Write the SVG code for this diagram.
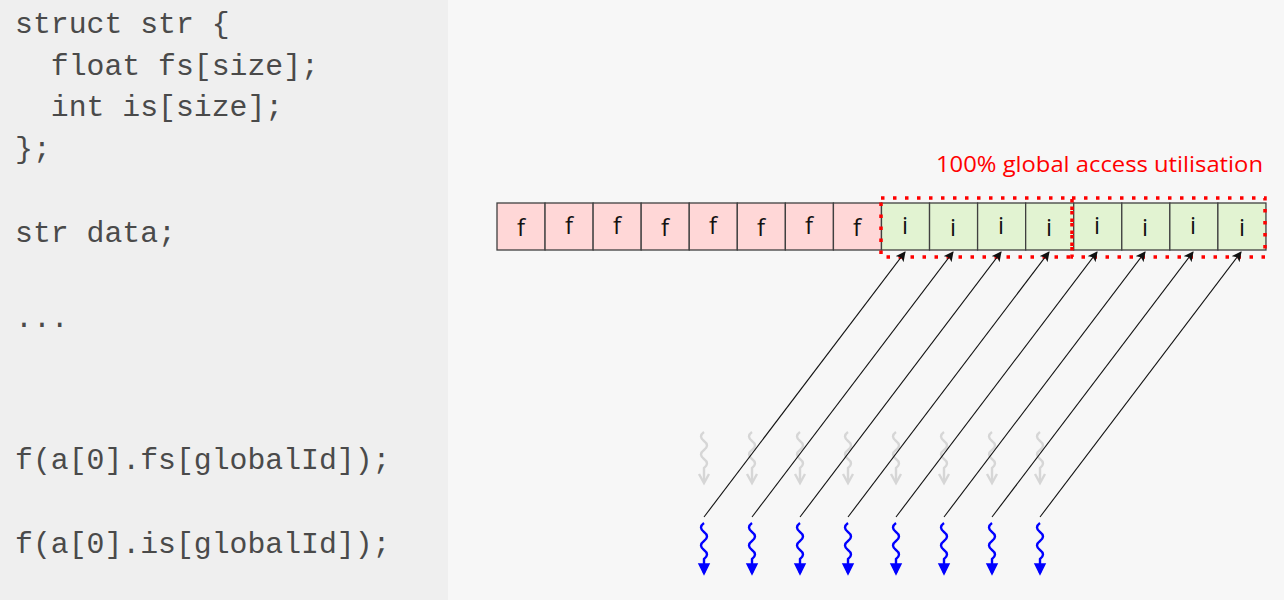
<svg xmlns="http://www.w3.org/2000/svg" width="1284" height="600" viewBox="0 0 1284 600">
<style>
.code{font-family:"Liberation Mono","Courier New",monospace;font-size:29.8px;fill:#4a4a4a;white-space:pre}
.cf{fill:#ffd7d7;stroke:#404040;stroke-width:1.3}
.ci{fill:#e2f3d2;stroke:#404040;stroke-width:1.3}
.lbl{font-family:"Open Sans","Liberation Sans",sans-serif;font-size:24px;fill:#111;text-anchor:middle}
.sel{fill:none;stroke:#ff0000;stroke-width:3.5;stroke-dasharray:3.5 8.5}
.conn{stroke:#111;stroke-width:1.1;fill:none}
.thr{fill:none;stroke:#0000ff;stroke-width:2.4}
.ghost{fill:none;stroke:#d6d6d6;stroke-width:2.4}
</style>
<defs>
<marker id="ah" markerWidth="10" markerHeight="10" refX="9" refY="5" orient="auto" markerUnits="userSpaceOnUse">
<path d="M0,0 L10,5 L0,10 L2.5,5 Z" fill="#111"/>
</marker>
<path id="sq" d="M0,0 c-4,3 -4,6 0,9 c4,3 4,6 0,9 c-4,3 -4,6 0,9 c4,3 4,6 0,9 L0,50"/>
</defs>
<rect x="0" y="0" width="1284" height="600" fill="#f7f7f7"/>
<rect x="0" y="0" width="448" height="600" fill="#efefef"/>
<g id="code">
<text class="code" x="15" y="33">struct str {</text>
<text class="code" x="15" y="75">  float fs[size];</text>
<text class="code" x="15" y="116">  int is[size];</text>
<text class="code" x="15" y="158">};</text>
<text class="code" x="15" y="242">str data;</text>
<text class="code" x="15" y="327">...</text>
<text class="code" x="15" y="469">f(a[0].fs[globalId]);</text>
<text class="code" x="15" y="553">f(a[0].is[globalId]);</text>
</g>
<g id="memory">
<rect class="cf" x="497" y="203" width="48.06" height="47"/>
<rect class="cf" x="545.06" y="203" width="48.06" height="47"/>
<rect class="cf" x="593.12" y="203" width="48.06" height="47"/>
<rect class="cf" x="641.18" y="203" width="48.06" height="47"/>
<rect class="cf" x="689.24" y="203" width="48.06" height="47"/>
<rect class="cf" x="737.3" y="203" width="48.06" height="47"/>
<rect class="cf" x="785.36" y="203" width="48.06" height="47"/>
<rect class="cf" x="833.42" y="203" width="48.06" height="47"/>
<rect class="ci" x="881.48" y="203" width="48.06" height="47"/>
<rect class="ci" x="929.54" y="203" width="48.06" height="47"/>
<rect class="ci" x="977.6" y="203" width="48.06" height="47"/>
<rect class="ci" x="1025.66" y="203" width="48.06" height="47"/>
<rect class="ci" x="1073.72" y="203" width="48.06" height="47"/>
<rect class="ci" x="1121.78" y="203" width="48.06" height="47"/>
<rect class="ci" x="1169.84" y="203" width="48.06" height="47"/>
<rect class="ci" x="1217.9" y="203" width="48.06" height="47"/>
<text class="lbl" x="521" y="236">f</text>
<text class="lbl" x="569" y="234">f</text>
<text class="lbl" x="617" y="234">f</text>
<text class="lbl" x="665" y="236">f</text>
<text class="lbl" x="713" y="234">f</text>
<text class="lbl" x="761" y="236">f</text>
<text class="lbl" x="809" y="234">f</text>
<text class="lbl" x="857" y="236">f</text>
<text class="lbl" x="905" y="234">i</text>
<text class="lbl" x="953" y="236">i</text>
<text class="lbl" x="1001" y="234">i</text>
<text class="lbl" x="1049" y="236">i</text>
<text class="lbl" x="1097" y="234">i</text>
<text class="lbl" x="1145" y="236">i</text>
<text class="lbl" x="1193" y="234">i</text>
<text class="lbl" x="1242" y="236">i</text>
</g>
<g id="selection">
<rect class="sel" x="881" y="198" width="191" height="59"/>
<rect class="sel" x="1072" y="198" width="193" height="59"/>
<text x="1263" y="172" text-anchor="end" font-family="'Open Sans','Liberation Sans',sans-serif" font-size="21.5" fill="#ff0000" textLength="327" lengthAdjust="spacingAndGlyphs">100% global access utilisation</text>
</g>
<g id="threads-idle">
<use href="#sq" class="ghost" x="704" y="432"/>
<use href="#sq" class="ghost" x="752" y="432"/>
<use href="#sq" class="ghost" x="800" y="432"/>
<use href="#sq" class="ghost" x="848" y="432"/>
<use href="#sq" class="ghost" x="896" y="432"/>
<use href="#sq" class="ghost" x="944" y="432"/>
<use href="#sq" class="ghost" x="992" y="432"/>
<use href="#sq" class="ghost" x="1040" y="432"/>
<path d="M699,474 L704,483 L709,474" fill="none" stroke="#d6d6d6" stroke-width="2.4"/>
<path d="M747,474 L752,483 L757,474" fill="none" stroke="#d6d6d6" stroke-width="2.4"/>
<path d="M795,474 L800,483 L805,474" fill="none" stroke="#d6d6d6" stroke-width="2.4"/>
<path d="M843,474 L848,483 L853,474" fill="none" stroke="#d6d6d6" stroke-width="2.4"/>
<path d="M891,474 L896,483 L901,474" fill="none" stroke="#d6d6d6" stroke-width="2.4"/>
<path d="M939,474 L944,483 L949,474" fill="none" stroke="#d6d6d6" stroke-width="2.4"/>
<path d="M987,474 L992,483 L997,474" fill="none" stroke="#d6d6d6" stroke-width="2.4"/>
<path d="M1035,474 L1040,483 L1045,474" fill="none" stroke="#d6d6d6" stroke-width="2.4"/>
</g>
<g id="threads-active">
<use href="#sq" class="thr" x="704" y="523"/>
<use href="#sq" class="thr" x="752" y="523"/>
<use href="#sq" class="thr" x="800" y="523"/>
<use href="#sq" class="thr" x="848" y="523"/>
<use href="#sq" class="thr" x="896" y="523"/>
<use href="#sq" class="thr" x="944" y="523"/>
<use href="#sq" class="thr" x="992" y="523"/>
<use href="#sq" class="thr" x="1040" y="523"/>
<path d="M699,564 L704,574 L709,564 Z" fill="#0000ff" stroke="#0000ff" stroke-width="1.5"/>
<path d="M747,564 L752,574 L757,564 Z" fill="#0000ff" stroke="#0000ff" stroke-width="1.5"/>
<path d="M795,564 L800,574 L805,564 Z" fill="#0000ff" stroke="#0000ff" stroke-width="1.5"/>
<path d="M843,564 L848,574 L853,564 Z" fill="#0000ff" stroke="#0000ff" stroke-width="1.5"/>
<path d="M891,564 L896,574 L901,564 Z" fill="#0000ff" stroke="#0000ff" stroke-width="1.5"/>
<path d="M939,564 L944,574 L949,564 Z" fill="#0000ff" stroke="#0000ff" stroke-width="1.5"/>
<path d="M987,564 L992,574 L997,564 Z" fill="#0000ff" stroke="#0000ff" stroke-width="1.5"/>
<path d="M1035,564 L1040,574 L1045,564 Z" fill="#0000ff" stroke="#0000ff" stroke-width="1.5"/>
</g>
<g id="connectors">
<line class="conn" x1="704" y1="517" x2="905" y2="252" marker-end="url(#ah)"/>
<line class="conn" x1="752" y1="517" x2="953" y2="252" marker-end="url(#ah)"/>
<line class="conn" x1="800" y1="517" x2="1001" y2="252" marker-end="url(#ah)"/>
<line class="conn" x1="848" y1="517" x2="1049" y2="252" marker-end="url(#ah)"/>
<line class="conn" x1="896" y1="517" x2="1097" y2="252" marker-end="url(#ah)"/>
<line class="conn" x1="944" y1="517" x2="1145" y2="252" marker-end="url(#ah)"/>
<line class="conn" x1="992" y1="517" x2="1193" y2="252" marker-end="url(#ah)"/>
<line class="conn" x1="1040" y1="517" x2="1241" y2="252" marker-end="url(#ah)"/>
</g>
</svg>
